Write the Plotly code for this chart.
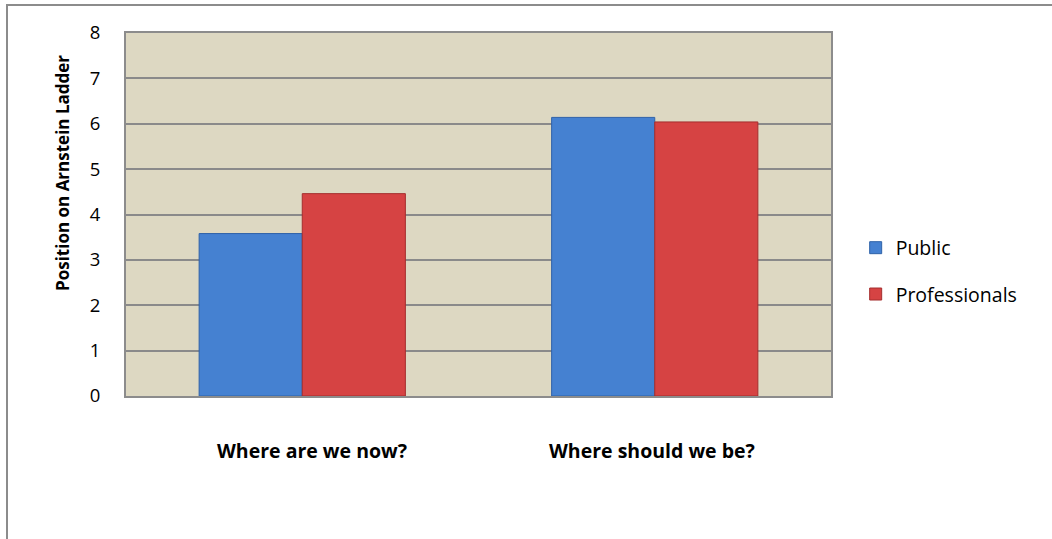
import plotly.graph_objects as go

# Survey results: perceived vs. desired position on Arnstein's ladder
categories = ["Where are we now?", "Where should we be?"]
public = [3.58, 6.14]
professionals = [4.46, 6.04]
y_ticks = [0, 1, 2, 3, 4, 5, 6, 7, 8]

W, H = 1052, 539
ML, MR, MT, MB = 126, 221, 33, 143
PW, PH = W - ML - MR, H - MT - MB

FONT = "Open Sans, Lato, sans-serif"

fig = go.Figure()
fig.add_trace(go.Bar(
    name="Public", x=categories, y=public, legendgroup="pub",
    marker=dict(color="#4581d1", line=dict(color="#2f62a8", width=1)),
))
fig.add_trace(go.Bar(
    name="Professionals", x=categories, y=professionals, legendgroup="pro",
    marker=dict(color="#d64343", line=dict(color="#a52e2e", width=1)),
))

px = lambda v: (v - ML) / PW
py = lambda v: 1 - (v - MT) / PH

# category labels sit well below the axis
for cat, shift in zip(categories, [10, -3]):
    fig.add_annotation(
        x=cat, xref="x", y=py(450), yref="paper",
        yanchor="middle", xanchor="center",
        text="<b>%s</b>" % cat, showarrow=False, xshift=shift,
        font=dict(family=FONT, size=19.5, color="#000000"),
    )

# vertical axis title, centred on the chart frame rather than the plot
fig.add_annotation(
    x=px(62), y=py(173), xref="paper", yref="paper",
    xanchor="center", yanchor="middle", textangle=-90,
    text="<b>Position on Arnstein Ladder</b>", showarrow=False,
    font=dict(family=FONT, size=17, color="#000000"),
)

# thin frame around the whole chart
fig.add_shape(
    type="rect", xref="paper", yref="paper",
    x0=px(7), x1=px(W + 20), y0=py(5), y1=py(H + 20),
    line=dict(color="#8c8c8c", width=2), layer="below",
)

fig.update_layout(
    width=W, height=H,
    margin=dict(l=ML, r=MR, t=MT, b=MB),
    paper_bgcolor="#ffffff",
    plot_bgcolor="#ddd8c2",
    barmode="group",
    bargap=0.415,
    bargroupgap=0,
    font=dict(family=FONT, size=18, color="#000000"),
    showlegend=True,
    legend=dict(
        x=1.035, y=(396 - 271) / PH, xanchor="left", yanchor="middle",
        font=dict(family=FONT, size=19.5, color="#000000"),
        traceorder="grouped", tracegroupgap=18,
        bgcolor="rgba(0,0,0,0)",
    ),
    xaxis=dict(
        showticklabels=False, ticks="", showgrid=False,
        showline=True, linecolor="#8c8c8c", linewidth=2, mirror=True,
    ),
    yaxis=dict(
        range=[0, 8], tickvals=y_ticks, ticktext=[str(v) for v in y_ticks],
        showgrid=True, gridcolor="#8a8a8a", gridwidth=1.5,
        showline=True, linecolor="#8c8c8c", linewidth=2, mirror=True,
        ticks="", ticklabelstandoff=20, zeroline=False,
        tickfont=dict(family=FONT, size=18.5),
    ),
)

fig.write_html("out.html")
